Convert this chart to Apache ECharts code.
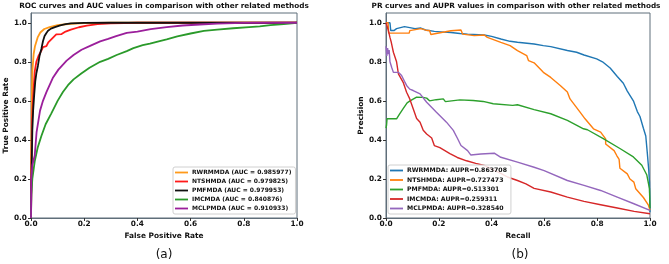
<!DOCTYPE html>
<html>
<head>
<meta charset="utf-8">
<script src="https://cdn.jsdelivr.net/npm/echarts@6/dist/echarts.min.js"></script>
<style>
html, body { margin: 0; padding: 0; background: #fff; }
#chart { width: 669px; height: 264px; }
</style>
</head>
<body>
<div id="chart"></div>
<script>
// tick values shared by both panels
var tickValues = [0, 0.2, 0.4, 0.6, 0.8, 1.0];

// (a) ROC curves, [false positive rate, true positive rate]
var rocNames = ['RWRMMDA (AUC = 0.985977)', 'NTSHMDA (AUC = 0.979825)', 'PMFMDA (AUC = 0.979953)',
	'IMCMDA (AUC = 0.840876)', 'MCLPMDA (AUC = 0.910933)'];
var rocRWRMMDA = [[0, 0], [0.001, 0.35], [0.003, 0.6], [0.005, 0.75], [0.01, 0.84], [0.015, 0.88], [0.025, 0.925],
	[0.035, 0.95], [0.05, 0.968], [0.07, 0.978], [0.1, 0.988], [0.15, 0.995], [0.2, 0.998], [0.3, 1], [1, 1]];
var rocNTSHMDA = [[0, 0], [0.002, 0.3], [0.004, 0.5], [0.008, 0.62], [0.014, 0.75], [0.02, 0.8], [0.028, 0.83],
	[0.04, 0.86], [0.045, 0.875], [0.058, 0.88], [0.065, 0.9], [0.08, 0.92], [0.095, 0.94], [0.115, 0.942],
	[0.13, 0.955], [0.15, 0.965], [0.18, 0.977], [0.21, 0.985], [0.25, 0.993], [0.3, 0.997], [0.4, 1], [1, 1]];
var rocPMFMDA = [[0, 0], [0.001, 0.1], [0.003, 0.3], [0.005, 0.45], [0.008, 0.55], [0.012, 0.63], [0.016, 0.7],
	[0.02, 0.74], [0.026, 0.78], [0.032, 0.83], [0.039, 0.866], [0.045, 0.905], [0.051, 0.932], [0.058, 0.948],
	[0.064, 0.959], [0.075, 0.97], [0.09, 0.978], [0.11, 0.987], [0.13, 0.993], [0.15, 0.997], [0.2, 0.999],
	[0.3, 1], [1, 1]];
var rocIMCMDA = [[0, 0], [0.001, 0.12], [0.005, 0.2], [0.014, 0.29], [0.025, 0.36], [0.039, 0.42], [0.055, 0.48],
	[0.076, 0.535], [0.1, 0.6], [0.12, 0.645], [0.139, 0.68], [0.16, 0.71], [0.189, 0.74], [0.22, 0.77],
	[0.26, 0.8], [0.29, 0.815], [0.322, 0.835], [0.36, 0.855], [0.385, 0.87], [0.42, 0.885], [0.447, 0.893],
	[0.48, 0.905], [0.51, 0.915], [0.55, 0.93], [0.6, 0.945], [0.65, 0.958], [0.7, 0.965], [0.76, 0.972],
	[0.82, 0.978], [0.86, 0.982], [0.9, 0.988], [0.95, 0.993], [1, 1]];
var rocMCLPMDA = [[0, 0], [0.001, 0.2], [0.005, 0.27], [0.014, 0.32], [0.021, 0.44], [0.034, 0.55], [0.045, 0.6],
	[0.058, 0.645], [0.083, 0.72], [0.103, 0.76], [0.134, 0.806], [0.16, 0.835], [0.19, 0.862], [0.22, 0.88],
	[0.26, 0.905], [0.29, 0.917], [0.32, 0.932], [0.36, 0.948], [0.4, 0.955], [0.45, 0.967], [0.51, 0.978],
	[0.57, 0.986], [0.635, 0.991], [0.7, 0.996], [0.8, 0.999], [1, 1]];

// (b) PR curves, [recall, precision]
var prNames = ['RWRMMDA: AUPR=0.863708', 'NTSHMDA: AUPR=0.727473', 'PMFMDA: AUPR=0.513301',
	'IMCMDA: AUPR=0.259311', 'MCLPMDA: AUPR=0.328540'];
var prRWRMMDA = [[0, 1], [0.015, 1], [0.018, 0.96], [0.03, 0.96], [0.04, 0.97], [0.07, 0.98], [0.09, 0.975],
	[0.11, 0.97], [0.132, 0.973], [0.15, 0.963], [0.183, 0.956], [0.22, 0.952], [0.246, 0.95], [0.28, 0.945],
	[0.309, 0.942], [0.372, 0.937], [0.4, 0.93], [0.435, 0.917], [0.47, 0.905], [0.498, 0.9], [0.561, 0.891],
	[0.596, 0.883], [0.624, 0.878], [0.687, 0.858], [0.722, 0.849], [0.75, 0.835], [0.798, 0.815], [0.82, 0.8],
	[0.849, 0.768], [0.876, 0.725], [0.899, 0.69], [0.914, 0.65], [0.937, 0.6], [0.952, 0.545], [0.962, 0.52],
	[0.975, 0.46], [0.984, 0.42], [0.99, 0.33], [0.995, 0.25], [0.998, 0.185], [1, 0.03]];
var prNTSHMDA = [[0, 1], [0.008, 1], [0.01, 0.947], [0.088, 0.947], [0.09, 0.96], [0.132, 0.97], [0.157, 0.96],
	[0.165, 0.96], [0.17, 0.94], [0.21, 0.95], [0.246, 0.959], [0.284, 0.963], [0.29, 0.942], [0.334, 0.934],
	[0.372, 0.937], [0.384, 0.925], [0.435, 0.9], [0.47, 0.883], [0.498, 0.857], [0.533, 0.832], [0.54, 0.806],
	[0.561, 0.795], [0.596, 0.746], [0.624, 0.72], [0.66, 0.679], [0.687, 0.645], [0.697, 0.61], [0.735, 0.542],
	[0.754, 0.508], [0.786, 0.457], [0.813, 0.44], [0.832, 0.405], [0.832, 0.379], [0.864, 0.345], [0.874, 0.32],
	[0.883, 0.3], [0.886, 0.255], [0.914, 0.226], [0.924, 0.2], [0.939, 0.184], [0.946, 0.15], [0.975, 0.105],
	[0.994, 0.066], [1, 0.04]];
var prPMFMDA = [[0, 0.46], [0.002, 0.474], [0.004, 0.508], [0.04, 0.508], [0.05, 0.53], [0.065, 0.56], [0.08, 0.59],
	[0.091, 0.6], [0.116, 0.619], [0.14, 0.618], [0.154, 0.614], [0.165, 0.6], [0.19, 0.606], [0.217, 0.61],
	[0.225, 0.596], [0.28, 0.605], [0.33, 0.602], [0.368, 0.597], [0.406, 0.585], [0.48, 0.577], [0.498, 0.58],
	[0.561, 0.555], [0.624, 0.534], [0.687, 0.5], [0.748, 0.457], [0.763, 0.452], [0.823, 0.407], [0.886, 0.356],
	[0.937, 0.313], [0.969, 0.27], [0.988, 0.22], [0.998, 0.15], [1, 0.05]];
var prIMCMDA = [[0, 1], [0.005, 1], [0.009, 0.96], [0.015, 0.925], [0.02, 0.9], [0.028, 0.849], [0.04, 0.8],
	[0.047, 0.738], [0.065, 0.695], [0.078, 0.644], [0.09, 0.61], [0.103, 0.56], [0.116, 0.51], [0.129, 0.49],
	[0.141, 0.449], [0.154, 0.43], [0.173, 0.41], [0.183, 0.371], [0.204, 0.36], [0.242, 0.33], [0.27, 0.31],
	[0.305, 0.293], [0.34, 0.28], [0.372, 0.269], [0.4, 0.25], [0.435, 0.228], [0.46, 0.21], [0.498, 0.192],
	[0.53, 0.175], [0.561, 0.152], [0.624, 0.133], [0.687, 0.107], [0.75, 0.085], [0.813, 0.068], [0.876, 0.051],
	[0.94, 0.034], [1, 0.022]];
var prMCLPMDA = [[0, 0.88], [0.003, 0.83], [0.006, 0.87], [0.009, 0.84], [0.012, 0.86], [0.015, 0.8], [0.022, 0.77],
	[0.028, 0.746], [0.047, 0.746], [0.059, 0.73], [0.07, 0.7], [0.078, 0.679], [0.09, 0.66], [0.103, 0.653],
	[0.129, 0.636], [0.154, 0.593], [0.191, 0.542], [0.229, 0.491], [0.255, 0.449], [0.27, 0.41], [0.284, 0.371],
	[0.309, 0.345], [0.321, 0.323], [0.359, 0.328], [0.41, 0.332], [0.435, 0.311], [0.498, 0.286], [0.561, 0.26],
	[0.599, 0.243], [0.687, 0.192], [0.75, 0.167], [0.813, 0.141], [0.876, 0.107], [0.939, 0.073], [1, 0.039]];

var rocData = [rocRWRMMDA, rocNTSHMDA, rocPMFMDA, rocIMCMDA, rocMCLPMDA];
var prData = [prRWRMMDA, prNTSHMDA, prPMFMDA, prIMCMDA, prMCLPMDA];
var rocColors = ['#ff9a1a', '#ff1a1a', '#111111', '#2a9a2a', '#9b1f9b'];
var prColors = ['#1f77b4', '#ff7f0e', '#2ca02c', '#d62728', '#9467bd'];

var FONT = '"DejaVu Sans", sans-serif';
var spine = '#5f6e7a';

function makeAxis(idx, name, gap, isY) {
	return {
		type : 'value',
		gridIndex : idx,
		min : 0,
		max : isY ? 1.05 : 1,
		interval : 0.2,
		name : name,
		nameLocation : 'middle',
		nameGap : gap,
		nameTextStyle : { fontFamily : FONT, fontWeight : 'bold', fontSize : 7.4, color : '#111' },
		axisLine : { show : true, lineStyle : { color : spine, width : 1 } },
		axisTick : { show : true, length : 3, lineStyle : { color : '#333' }, customValues : tickValues },
		axisLabel : {
			fontFamily : FONT, fontWeight : 'bold', fontSize : 7.4, color : '#111', margin : isY ? 4 : 3,
			customValues : tickValues,
			formatter : function(v) { return v.toFixed(1); }
		},
		splitLine : { show : false }
	};
}

function makeSeries(names, data, colors, idx, width) {
	var out = [];
	for (var i = 0; i < names.length; i++) {
		out.push({
			type : 'line',
			name : names[i],
			xAxisIndex : idx,
			yAxisIndex : idx,
			data : data[i],
			symbol : 'none',
			color : colors[i],
			lineStyle : { width : width, color : colors[i] },
			animation : false
		});
	}
	return out;
}

function makeLegend(names, left, top, gap, size) {
	return {
		data : names,
		orient : 'vertical',
		left : left,
		top : top,
		icon : 'rect',
		itemWidth : 13,
		itemHeight : 1.8,
		itemGap : gap,
		padding : [1.5, 4, 1.5, 2],
		backgroundColor : 'rgba(255,255,255,0.85)',
		borderColor : '#d0d0d0',
		borderWidth : 1,
		borderRadius : 2,
		textStyle : { fontFamily : FONT, fontWeight : 'bold', fontSize : size, color : '#111', lineHeight : 8, padding : [0, 0, 0, -1] }
	};
}

function label(text, x, y, size, weight) {
	return {
		type : 'text', x : x, y : y, z : 10,
		style : { text : text, align : 'center', verticalAlign : 'middle', fontFamily : FONT,
			fontSize : size, fontWeight : weight, fill : '#111' }
	};
}

var chart = echarts.init(document.getElementById('chart'), null, { renderer : 'canvas' });
chart.setOption({
	animation : false,
	backgroundColor : '#fff',
	grid : [
		{ left : 31, top : 13, width : 266, height : 205, show : true, borderColor : spine, borderWidth : 1 },
		{ left : 386, top : 13, width : 264, height : 205, show : true, borderColor : spine, borderWidth : 1 }
	],
	xAxis : [makeAxis(0, 'False Positive Rate', 13, false), makeAxis(1, 'Recall', 14, false)],
	yAxis : [makeAxis(0, 'True Positive Rate', 19, true), makeAxis(1, 'Precision', 20, true)],
	legend : [makeLegend(rocNames, 173, 167, 1, 6), makeLegend(prNames, 388, 165, 1.5, 6.2)],
	graphic : [
		label('ROC curves and AUC values in comparison with other related methods', 164, 6, 7.3, 'bold'),
		label('PR curves and AUPR values in comparison with other related methods', 516, 6, 7.3, 'bold'),
		label('(a)', 164, 255, 12, 'normal'),
		label('(b)', 520, 255, 12, 'normal')
	],
	series : makeSeries(rocNames, rocData, rocColors, 0, 1.8).concat(makeSeries(prNames, prData, prColors, 1, 1.4))
});
</script>
</body>
</html>
